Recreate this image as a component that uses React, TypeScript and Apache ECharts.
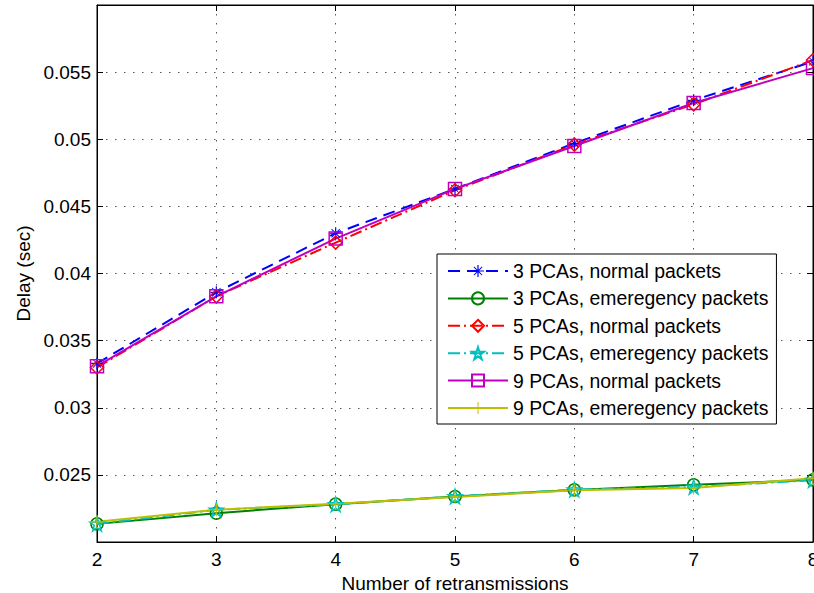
import React, { useEffect, useRef } from "react";
import * as echarts from "echarts";

// Number of retransmissions (x axis)
const retransmissions = [2, 3, 4, 5, 6, 7, 8];

// Mean delay in seconds per configuration
const pca3Normal = [0.0333, 0.0386, 0.043, 0.0463, 0.0497, 0.0529, 0.0558];
const pca3Emergency = [0.02135, 0.02215, 0.02282, 0.02339, 0.02388, 0.02426, 0.02463];
const pca5Normal = [0.0330, 0.0383, 0.0423, 0.0462, 0.0496, 0.0526, 0.0559];
const pca5Emergency = [0.02135, 0.0224, 0.0228, 0.0234, 0.0239, 0.0241, 0.0246];
const pca9Normal = [0.0331, 0.0383, 0.0426, 0.0463, 0.0495, 0.0527, 0.0553];
const pca9Emergency = [0.0215, 0.0224, 0.02285, 0.02335, 0.02385, 0.02403, 0.02475];

const seriesNames = [
  "3 PCAs, normal packets",
  "3 PCAs, emeregency packets",
  "5 PCAs, normal packets",
  "5 PCAs, emeregency packets",
  "9 PCAs, normal packets",
  "9 PCAs, emeregency packets",
];

const FONT = "Liberation Sans, Arial, Helvetica, sans-serif";

const asteriskPath =
  "path://M9 0h2v20h-2z M0 9h20v2h-20z M2.6 3.6L3.6 2.6L17.4 16.4L16.4 17.4z M16.4 2.6L17.4 3.6L3.6 17.4L2.6 16.4z";
const plusPath = "path://M9.2 0h1.6v20h-1.6z M0 9.2h20v1.6h-20z";
const pentagramPath =
  "path://M10 0L12.25 6.91L19.51 6.91L13.63 11.18L15.88 18.09L10 13.82L4.12 18.09L6.37 11.18L0.49 6.91L7.75 6.91Z";

const pairs = (ys: number[]) => retransmissions.map((x, i) => [x, ys[i]]);

export default function App() {
  const ref = useRef<HTMLDivElement>(null);

  useEffect(() => {
    if (!ref.current) return;
    const chart = echarts.init(ref.current, null, { renderer: "svg" });

    const mkSeries = (
      name: string,
      ys: number[],
      color: string,
      lineType: any,
      symbol: string,
      symbolSize: number,
      filled: boolean
    ) => ({
      name,
      type: "line",
      data: pairs(ys),
      symbol,
      symbolSize,
      showAllSymbol: true,
      lineStyle: { color, width: 2, type: lineType },
      itemStyle: filled
        ? { color, borderWidth: 0 }
        : { color: "rgba(0,0,0,0)", borderColor: color, borderWidth: 1.5 },
      emphasis: { disabled: true },
      z: 3,
    });

    const dashDot = [12, 4, 2, 4];

    const grid = {
      show: true,
      left: 97,
      right: 1,
      top: 5,
      bottom: 51,
      containLabel: false,
      outerBoundsMode: "none",
      borderColor: "#000",
      borderWidth: 1,
      backgroundColor: "#fff",
    };

    const gridLine = {
      show: true,
      lineStyle: { color: "#555", width: 1, type: [1.5, 7.5] },
    };

    chart.setOption({
      animation: false,
      backgroundColor: "#fff",
      grid,
      legend: {
        orient: "vertical",
        left: 437,
        top: 254,
        data: seriesNames,
        backgroundColor: "#fff",
        borderColor: "#000",
        borderWidth: 1,
        padding: [6, 8, 5, 10],
        itemWidth: 60,
        itemHeight: 15,
        itemGap: 5.4,
        textStyle: { fontFamily: FONT, fontSize: 19.4, color: "#000", lineHeight: 22 },
        selectedMode: false,
      },
      xAxis: [
        {
          type: "value",
          min: 2,
          max: 8,
          interval: 1,
          name: "Number of retransmissions",
          nameLocation: "middle",
          nameGap: 27,
          nameTextStyle: { fontFamily: FONT, fontSize: 19, color: "#000" },
          axisLine: { show: true, onZero: false, lineStyle: { color: "#000", width: 1 } },
          axisTick: { show: true, inside: true, length: 6, lineStyle: { color: "#000" } },
          axisLabel: { fontFamily: FONT, fontSize: 19, color: "#000", margin: 8 },
          splitLine: gridLine,
        },
        {
          type: "value",
          position: "top",
          min: 2,
          max: 8,
          interval: 1,
          axisLine: { show: true, onZero: false, lineStyle: { color: "#000", width: 1 } },
          axisTick: { show: true, inside: true, length: 6, lineStyle: { color: "#000" } },
          axisLabel: { show: false },
          splitLine: { show: false },
        },
      ],
      yAxis: [
        {
          type: "value",
          min: 0.02,
          max: 0.06,
          interval: 0.005,
          name: "Delay (sec)",
          nameLocation: "middle",
          nameGap: 64,
          nameTextStyle: { fontFamily: FONT, fontSize: 19, color: "#000" },
          axisLine: { show: true, onZero: false, lineStyle: { color: "#000", width: 1 } },
          axisTick: { show: true, inside: true, length: 6, lineStyle: { color: "#000" } },
          axisLabel: {
            fontFamily: FONT,
            fontSize: 19,
            color: "#000",
            margin: 6,
            formatter: (v: number) => {
              const r = Math.round(v * 1000) / 1000;
              if (r <= 0.02 || r >= 0.06) return "";
              return String(r);
            },
          },
          splitLine: gridLine,
        },
        {
          type: "value",
          position: "right",
          min: 0.02,
          max: 0.06,
          interval: 0.005,
          axisLine: { show: true, onZero: false, lineStyle: { color: "#000", width: 1 } },
          axisTick: { show: true, inside: true, length: 6, lineStyle: { color: "#000" } },
          axisLabel: { show: false },
          splitLine: { show: false },
        },
      ],
      series: [
        mkSeries(seriesNames[0], pca3Normal, "#0000ff", [12, 7], asteriskPath, 12, true),
        mkSeries(seriesNames[1], pca3Emergency, "#008000", "solid", "circle", 12, false),
        mkSeries(seriesNames[2], pca5Normal, "#ff0000", dashDot, "diamond", 13, false),
        mkSeries(seriesNames[3], pca5Emergency, "#00bfbf", dashDot, pentagramPath, 14, false),
        mkSeries(seriesNames[4], pca9Normal, "#bf00bf", "solid", "rect", 13, false),
        mkSeries(seriesNames[5], pca9Emergency, "#bfbf00", "solid", plusPath, 13, true),
      ],
    });

    return () => chart.dispose();
  }, []);

  return (
    <div
      ref={ref}
      style={{ position: "fixed", left: 0, top: 0, width: 814, height: 593, background: "#fff" }}
    />
  );
}
